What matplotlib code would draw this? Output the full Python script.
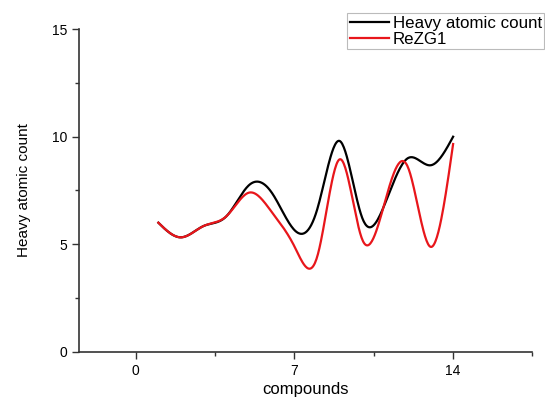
import matplotlib.pyplot as plt
import numpy as np

plt.rcParams['font.family'] = ['Liberation Sans', 'DejaVu Sans']

# data
compounds = np.arange(1, 15)
heavy = [6.0, 5.32, 5.85, 6.3, 7.75, 7.4, 5.66, 6.6, 9.8, 6.2, 6.9, 9.0, 8.67, 10.0]
rezg1 = [6.0, 5.32, 5.85, 6.3, 7.4, 6.5, 4.9, 4.4, 8.95, 5.2, 7.0, 8.6, 4.88, 9.66]


def smooth(x, y, n=400):
    # natural cubic spline, drawn like the original's smoothed line
    x = np.asarray(x, float)
    y = np.asarray(y, float)
    m = len(x)
    h = np.diff(x)
    A = np.zeros((m, m))
    r = np.zeros(m)
    A[0, 0] = 1
    A[-1, -1] = 1
    for i in range(1, m - 1):
        A[i, i - 1] = h[i - 1]
        A[i, i] = 2 * (h[i - 1] + h[i])
        A[i, i + 1] = h[i]
        r[i] = 6 * ((y[i + 1] - y[i]) / h[i] - (y[i] - y[i - 1]) / h[i - 1])
    M = np.linalg.solve(A, r)
    xs = np.linspace(x[0], x[-1], n)
    k = np.clip(np.searchsorted(x, xs) - 1, 0, m - 2)
    t0 = x[k + 1] - xs
    t1 = xs - x[k]
    hk = h[k]
    ys = (M[k] * t0**3 + M[k + 1] * t1**3) / (6 * hk) \
        + (y[k] / hk - M[k] * hk / 6) * t0 + (y[k + 1] / hk - M[k + 1] * hk / 6) * t1
    return xs, ys


fig = plt.figure(figsize=(5.45, 3.98), dpi=100)
ax = fig.add_axes([0.145, 0.1163, 0.832, 0.8103])

xs, ys = smooth(compounds, heavy)
ax.plot(xs, ys, color='black', lw=1.6, label='Heavy atomic count')
xs, ys = smooth(compounds, rezg1)
ax.plot(xs, ys, color='#e8161b', lw=1.6, label='ReZG1')

ax.set_xlim(-2.5, 17.5)
ax.set_ylim(0, 15)
ax.set_xticks([0, 7, 14])
ax.set_xticks([3.5, 10.5, 17.5], minor=True)
ax.set_yticks([0, 5, 10, 15])
ax.set_yticks([2.5, 7.5, 12.5], minor=True)
ax.tick_params(which='major', length=5, width=1, labelsize=10, color='#333333')
ax.tick_params(which='minor', length=3, width=1, color='#333333')
ax.spines['top'].set_visible(False)
ax.spines['right'].set_visible(False)
for s in ['left', 'bottom']:
    ax.spines[s].set_color('#333333')
    ax.spines[s].set_linewidth(1.2)

ax.set_xlabel('compounds', fontsize=12, labelpad=3.5)
ax.set_ylabel('Heavy atomic count', fontsize=11, labelpad=15)

leg = fig.legend(loc='upper left', bbox_to_anchor=(347 / 545, 1 - 13.5 / 398),
                 fontsize=12.2, frameon=True, fancybox=False, borderpad=0.15,
                 handlelength=2.3, handletextpad=0.25, labelspacing=0.05,
                 borderaxespad=0)
leg.get_frame().set_edgecolor('#aaaaaa')
leg.get_frame().set_linewidth(0.8)

fig.savefig('out.png', dpi=100)
